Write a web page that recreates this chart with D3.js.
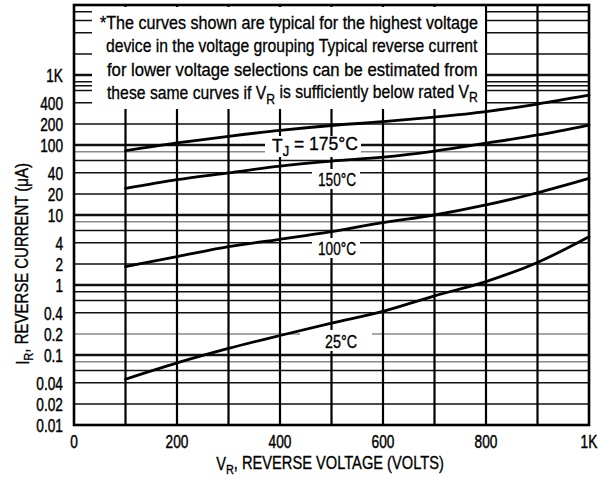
<!DOCTYPE html>
<html>
<head>
<meta charset="utf-8">
<script src="https://cdn.jsdelivr.net/npm/d3@7"></script>
<style>
  body { margin: 0; background: #fff; }
  text { font-family: "Liberation Sans", Arial, sans-serif; fill: #000; }
</style>
</head>
<body>
<div id="chart"></div>
<script>
// --- Data ---
const volts = [100, 200, 300, 400, 500, 600, 700, 800, 900, 1000];
const tj175 = [83, 107, 133, 162, 190, 215, 250, 300, 385, 515];
const tj150 = [24, 32, 40, 50, 59, 67, 82, 106, 139, 193];
const tj100 = [1.83, 2.54, 3.53, 4.5, 5.8, 7.8, 10, 13.9, 20.8, 33.4];
const tj25 = [0.045, 0.077, 0.124, 0.19, 0.285, 0.42, 0.7, 1.12, 2.1, 4.9];

const xGridValues = [100, 200, 300, 400, 500, 600, 700, 800, 900];
const yGridValues = [
  0.02, 0.04, 0.06, 0.08, 0.1, 0.2, 0.4, 0.6, 0.8, 1, 2, 4, 6, 8, 10,
  20, 40, 60, 80, 100, 200, 400, 600, 700, 800, 1000, 2000, 4000, 6000, 8000,
];
const yTickValues = [0.01, 0.02, 0.04, 0.1, 0.2, 0.4, 1, 2, 4, 10, 20, 40, 100, 200, 400, 1000];
const yTickLabels = ["0.01", "0.02", "0.04", "0.1", "0.2", "0.4", "1", "2", "4", "10", "20", "40", "100", "200", "400", "1K"];
const xTickValues = [0, 200, 400, 600, 800, 1000];
const xTickLabels = ["0", "200", "400", "600", "800", "1K"];

// --- Chart Dimensions ---
const width = 600;
const height = 482;
const plot = { left: 74, right: 589, top: 5, bottom: 425 };
const squeezeK = 0.74; // condensed face look

const svg = d3
  .select("#chart")
  .append("svg")
  .attr("width", width)
  .attr("height", height);

const x = d3.scaleLinear().domain([0, 1000]).range([plot.left, plot.right]);
const y = d3.scaleLog().domain([0.01, 10000]).range([plot.bottom, plot.top]);

// squeeze a text element horizontally around its own x
function squeeze(sel, k) {
  const x0 = +sel.attr("x");
  sel.attr("transform", `translate(${x0},0) scale(${k},1) translate(${-x0},0)`);
}
function fitWidth(sel, w) {
  const natural = sel.node().getComputedTextLength();
  squeeze(sel, w / natural);
}

// --- Grid ---
const isDecade = (v) => Math.abs(Math.log10(v) - Math.round(Math.log10(v))) < 1e-9;
const grayLines = new Set([0.08, 0.2, 8, 80]);

svg
  .append("g")
  .selectAll("line")
  .data(yGridValues)
  .join("line")
  .attr("x1", plot.left)
  .attr("x2", plot.right)
  .attr("y1", (d) => y(d))
  .attr("y2", (d) => y(d))
  .attr("stroke", (d) => (grayLines.has(d) ? "#8a8a8a" : "#111"))
  .attr("stroke-width", (d) => (isDecade(d) ? 2.4 : 1.5));

svg
  .append("g")
  .selectAll("line")
  .data(xGridValues)
  .join("line")
  .attr("x1", (d) => x(d))
  .attr("x2", (d) => x(d))
  .attr("y1", plot.top)
  .attr("y2", plot.bottom)
  .attr("stroke", "#000")
  .attr("stroke-width", 2.2);

// --- White patches: note box and behind the curve labels ---
svg
  .append("rect")
  .attr("x", 92)
  .attr("y", 7)
  .attr("width", 393)
  .attr("height", 102)
  .attr("fill", "#fff");

const labelPatches = [
  [265, 136, 96, 21],
  [312, 169, 48, 20],
  [312, 238, 48, 20],
  [300, 330, 72, 21],
];
svg
  .append("g")
  .selectAll("rect")
  .data(labelPatches)
  .join("rect")
  .attr("x", (d) => d[0])
  .attr("y", (d) => d[1])
  .attr("width", (d) => d[2])
  .attr("height", (d) => d[3])
  .attr("fill", "#fff");

// --- Curves ---
const line = d3
  .line()
  .x((d) => x(d[0]))
  .y((d) => y(d[1]))
  .curve(d3.curveMonotoneX);

[tj175, tj150, tj100, tj25].forEach((series) => {
  svg
    .append("path")
    .datum(volts.map((v, i) => [v, series[i]]))
    .attr("fill", "none")
    .attr("stroke", "#000")
    .attr("stroke-width", 2.8)
    .attr("stroke-linecap", "round")
    .attr("d", line);
});

// --- Frame ---
svg
  .append("rect")
  .attr("x", plot.left)
  .attr("y", plot.top)
  .attr("width", plot.right - plot.left)
  .attr("height", plot.bottom - plot.top)
  .attr("fill", "none")
  .attr("stroke", "#000")
  .attr("stroke-width", 2.6);

// --- Tick labels ---
const tickFont = 18.5;
svg
  .append("g")
  .selectAll("text")
  .data(yTickValues)
  .join("text")
  .attr("x", 63)
  .attr("y", (d) => y(d))
  .attr("dy", "0.36em")
  .attr("text-anchor", "end")
  .style("font-size", tickFont + "px")
  .style("stroke", "#000")
  .style("stroke-width", 0.45)
  .text((d, i) => yTickLabels[i])
  .each(function () {
    squeeze(d3.select(this), squeezeK);
  });

svg
  .append("g")
  .selectAll("text")
  .data(xTickValues)
  .join("text")
  .attr("x", (d) => x(d))
  .attr("y", 441)
  .attr("dy", "0.36em")
  .attr("text-anchor", "middle")
  .style("font-size", tickFont + "px")
  .style("stroke", "#000")
  .style("stroke-width", 0.45)
  .text((d, i) => xTickLabels[i])
  .each(function () {
    squeeze(d3.select(this), squeezeK);
  });

// --- Axis titles ---
const xTitle = svg
  .append("text")
  .attr("x", 330)
  .attr("y", 464)
  .attr("dy", "0.36em")
  .attr("text-anchor", "middle")
  .style("font-size", "17.5px")
  .style("stroke", "#000")
  .style("stroke-width", 0.35);
xTitle.append("tspan").text("V");
xTitle.append("tspan").attr("dy", "0.25em").style("font-size", "13px").text("R");
xTitle.append("tspan").attr("dy", "-0.25em").text(", REVERSE VOLTAGE (VOLTS)");
fitWidth(xTitle, 228);

const yTitleG = svg.append("g").attr("transform", "translate(23,264) rotate(-90)");
const yTitle = yTitleG
  .append("text")
  .attr("x", 0)
  .attr("y", 0)
  .attr("dy", "0.36em")
  .attr("text-anchor", "middle")
  .style("font-size", "17.5px")
  .style("stroke", "#000")
  .style("stroke-width", 0.35);
yTitle.append("tspan").text("I");
yTitle.append("tspan").attr("dy", "0.25em").style("font-size", "13px").text("R");
yTitle.append("tspan").attr("dy", "-0.25em").text(", REVERSE CURRENT (\u03bcA)");
fitWidth(yTitle, 202);

// --- Curve labels ---
function curveLabel(px, py, w, parts) {
  const t = svg
    .append("text")
    .attr("x", px)
    .attr("y", py)
    .attr("dy", "0.36em")
    .style("font-size", "19px")
    .style("stroke", "#000")
    .style("stroke-width", 0.35);
  parts.forEach((p) => {
    const s = t.append("tspan").text(p.text);
    if (p.sub) s.attr("dy", "0.3em").style("font-size", "14px");
    if (p.back) s.attr("dy", "-0.3em");
  });
  fitWidth(t, w);
}
curveLabel(272, 145, 86, [
  { text: "T" },
  { text: "J", sub: true },
  { text: "  =  175\u00b0C", back: true },
]);
curveLabel(318, 179, 38, [{ text: "150\u00b0C" }]);
curveLabel(318, 248, 38, [{ text: "100\u00b0C" }]);
curveLabel(325, 341, 32, [{ text: "25\u00b0C" }]);

// --- Note (justified lines) ---
const noteLines = [
  [{ text: "*The curves shown are typical for the highest voltage" }],
  [{ text: "device in the voltage grouping  Typical reverse current" }],
  [{ text: "for lower voltage selections can be estimated from" }],
  [
    { text: "these same curves if V" },
    { text: "R", sub: true },
    { text: " is sufficiently below rated V", back: true },
    { text: "R", sub: true },
  ],
];
const noteStarts = [100, 106, 107, 107];
const noteRows = [23, 46, 70, 93];
noteLines.forEach((parts, i) => {
  const t = svg
    .append("text")
    .attr("x", noteStarts[i])
    .attr("y", noteRows[i])
    .attr("dy", "0.36em")
    .style("font-size", "18px")
    .style("stroke", "#000")
    .style("stroke-width", 0.3);
  parts.forEach((p) => {
    const s = t.append("tspan").text(p.text);
    if (p.sub) s.attr("dy", "0.3em").style("font-size", "14px");
    if (p.back) s.attr("dy", "-0.3em");
  });
  fitWidth(t, 478 - noteStarts[i]);
});
</script>
</body>
</html>
